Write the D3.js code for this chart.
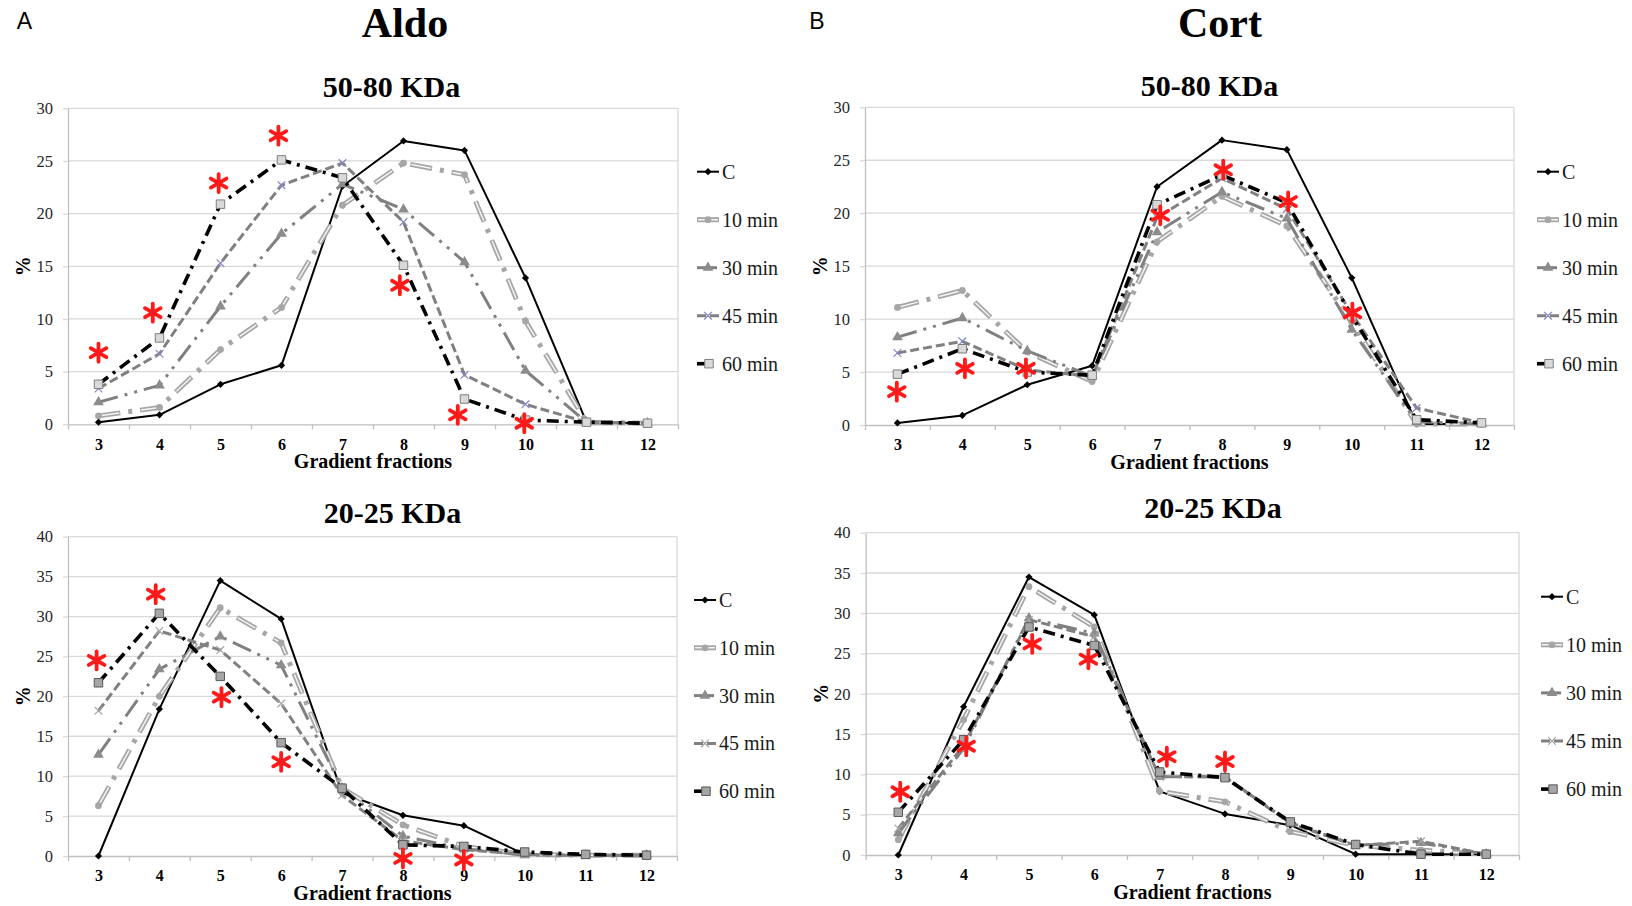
<!DOCTYPE html>
<html>
<head>
<meta charset="utf-8">
<script src="https://cdn.jsdelivr.net/npm/d3@7"></script>
<style>
  body { margin: 0; background: #fff; }
  svg { display: block; }
</style>
</head>
<body>
<svg id="chart" width="1632" height="906"></svg>
<script>
// Gradient fractions on the x axis, series names in the legend
const fractions = [3, 4, 5, 6, 7, 8, 9, 10, 11, 12];
const seriesNames = ['C', '10 min', '30 min', '45 min', '60 min'];
const yTicksHigh = [0, 5, 10, 15, 20, 25, 30];
const yTicksLow = [0, 5, 10, 15, 20, 25, 30, 35, 40];

// Aldo, 50-80 KDa (%)
const aldoHighC   = [0.2, 0.9, 3.8, 5.6, 22.6, 26.9, 26.0, 13.9, 0.2, 0.1];
const aldoHigh10  = [0.8, 1.6, 7.1, 11.1, 20.8, 24.8, 23.7, 9.8, 0.2, 0.1];
const aldoHigh30  = [2.1, 3.7, 11.2, 18.1, 22.8, 20.4, 15.4, 5.1, 0.2, 0.1];
const aldoHigh45  = [3.4, 6.7, 15.3, 22.7, 24.8, 19.2, 4.7, 1.9, 0.2, 0.1];
const aldoHigh60  = [3.8, 8.2, 20.9, 25.1, 23.4, 15.1, 2.4, 0.4, 0.2, 0.1];

// Aldo, 20-25 KDa (%)
const aldoLowC    = [0.0, 18.4, 34.5, 29.7, 7.9, 5.1, 3.8, 0.2, 0.1, 0.1];
const aldoLow10   = [6.3, 20.0, 31.1, 26.7, 8.5, 3.9, 1.2, 0.2, 0.1, 0.1];
const aldoLow30   = [12.7, 23.4, 27.5, 23.9, 8.5, 2.5, 0.9, 0.1, 0.1, 0.1];
const aldoLow45   = [18.2, 28.2, 25.8, 19.1, 7.6, 1.9, 0.8, 0.2, 0.1, 0.1];
const aldoLow60   = [21.7, 30.4, 22.5, 14.2, 8.5, 1.4, 1.2, 0.5, 0.2, 0.1];

// Cort, 50-80 KDa (%)
const cortHighC   = [0.2, 0.9, 3.8, 5.6, 22.5, 26.9, 26.0, 13.9, 0.1, 0.1];
const cortHigh10  = [11.1, 12.7, 6.9, 4.1, 17.3, 21.6, 18.8, 9.7, 0.1, 0.1];
const cortHigh30  = [8.3, 10.1, 7.0, 4.6, 18.2, 22.0, 19.5, 9.0, 0.3, 0.1];
const cortHigh45  = [6.8, 7.9, 5.2, 4.6, 19.6, 23.3, 20.4, 10.5, 1.6, 0.2];
const cortHigh60  = [4.8, 7.2, 5.0, 4.7, 20.8, 23.6, 21.0, 10.3, 0.5, 0.2];

// Cort, 20-25 KDa (%)
const cortLowC    = [0.0, 18.4, 34.5, 29.8, 7.9, 5.1, 3.7, 0.1, 0.1, 0.1];
const cortLow10   = [1.9, 16.8, 33.3, 28.3, 7.9, 6.6, 2.9, 1.2, 0.6, 0.1];
const cortLow30   = [2.7, 13.2, 29.4, 27.5, 9.7, 9.7, 4.0, 1.2, 1.5, 0.1];
const cortLow45   = [3.3, 13.6, 29.2, 27.1, 9.7, 9.7, 3.9, 1.2, 1.7, 0.1];
const cortLow60   = [5.3, 14.3, 28.3, 26.0, 10.3, 9.6, 4.1, 1.3, 0.1, 0.1];

// Significance marks: [fraction, % value where the asterisk sits]
const aldoHighStars = [[3.0, 6.8], [3.89, 10.6], [4.97, 22.9], [5.95, 27.4], [7.94, 13.2], [8.89, 0.9], [9.98, 0.1]];
const aldoLowStars  = [[2.97, 24.5], [3.94, 32.8], [5.02, 19.9], [6.0, 11.8], [8.0, -0.3], [9.0, -0.5]];
const cortHighStars = [[2.99, 3.15], [4.04, 5.35], [4.98, 5.35], [7.05, 19.8], [8.02, 24.1], [9.02, 21.1], [10.01, 10.6]];
const cortLowStars  = [[3.03, 7.85], [4.04, 13.5], [5.05, 26.2], [5.91, 24.3], [7.11, 12.2], [8.0, 11.6]];

/**
 * Visual configs.
 */
const serif = '"Liberation Serif", "Times New Roman", serif';
const sans = '"Liberation Sans", Arial, sans-serif';

const styles = [
    { color: '#000', width: 2, dash: null, marker: 'diamond' },
    { color: '#a6a6a6', width: 5, dash: '22,8,4,8', inner: '0,1,20,21', marker: 'circle' },
    { color: '#808080', width: 3, dash: '20,7,3,7,3,7', marker: 'triangle' },
    { color: '#808080', width: 3, dash: '9,4', marker: 'x' },
    { color: '#000', width: 3.6, dash: '12,6,3,6', marker: 'square' }
];

const panels = [
    { series: [aldoHighC, aldoHigh10, aldoHigh30, aldoHigh45, aldoHigh60], stars: aldoHighStars,
      ticks: yTicksHigh, left: 68, right: 678, top: 108.3, bottom: 424.3,
      legX: 697, legY: 171.7, legStep: 48, title: '50-80 KDa', titleX: 391.5, titleY: 96.5, dark: false },
    { series: [cortHighC, cortHigh10, cortHigh30, cortHigh45, cortHigh60], stars: cortHighStars,
      ticks: yTicksHigh, left: 865, right: 1514, top: 107.3, bottom: 425,
      legX: 1537, legY: 171.7, legStep: 48, title: '50-80 KDa', titleX: 1209.5, titleY: 96, dark: false },
    { series: [aldoLowC, aldoLow10, aldoLow30, aldoLow45, aldoLow60], stars: aldoLowStars,
      ticks: yTicksLow, left: 68, right: 677, top: 536.7, bottom: 856,
      legX: 694, legY: 600, legStep: 47.8, title: '20-25 KDa', titleX: 392.5, titleY: 523, dark: true },
    { series: [cortLowC, cortLow10, cortLow30, cortLow45, cortLow60], stars: cortLowStars,
      ticks: yTicksLow, left: 865.6, right: 1519, top: 532.7, bottom: 855,
      legX: 1541, legY: 596.7, legStep: 48.1, title: '20-25 KDa', titleX: 1213, titleY: 518.3, dark: true }
];

const svg = d3.select('#chart');

/**
 * Big headings.
 */
svg.append('text').attr('x', 24.5).attr('y', 29).attr('text-anchor', 'middle')
    .attr('font-family', sans).attr('font-size', 23).text('A');
svg.append('text').attr('x', 817).attr('y', 29).attr('text-anchor', 'middle')
    .attr('font-family', sans).attr('font-size', 23).text('B');
svg.append('text').attr('x', 405).attr('y', 37).attr('text-anchor', 'middle')
    .attr('font-family', serif).attr('font-weight', 'bold').attr('font-size', 42).text('Aldo');
svg.append('text').attr('x', 1220).attr('y', 37).attr('text-anchor', 'middle')
    .attr('font-family', serif).attr('font-weight', 'bold').attr('font-size', 42).text('Cort');

panels.forEach(drawPanel);

/**
 * Draws one marker symbol.
 */
function drawMarker(sel, type, px, py, dark) {
    if (type === 'diamond') {
        sel.append('path').attr('d', d3.symbol(d3.symbolSquare, 26)())
            .attr('transform', `translate(${px},${py}) rotate(45)`).attr('fill', '#000');
    } else if (type === 'circle') {
        sel.append('path').attr('d', d3.symbol(d3.symbolCircle, 36)())
            .attr('transform', `translate(${px},${py})`).attr('fill', '#a6a6a6');
    } else if (type === 'triangle') {
        sel.append('path').attr('d', d3.symbol(d3.symbolTriangle, 50)())
            .attr('transform', `translate(${px},${py})`).attr('fill', '#8c8c8c');
    } else if (type === 'x') {
        sel.append('path').attr('d', d3.symbol(d3.symbolX, 40)())
            .attr('transform', `translate(${px},${py})`).attr('fill', 'none')
            .attr('stroke', dark ? '#a6a6a6' : '#8585c2').attr('stroke-width', 1.2);
    } else if (type === 'square') {
        sel.append('path').attr('d', d3.symbol(d3.symbolSquare, 72)())
            .attr('transform', `translate(${px},${py})`)
            .attr('fill', dark ? '#a6a6a6' : '#d9d9d9')
            .attr('stroke', dark ? '#595959' : '#7f7f7f').attr('stroke-width', 1);
    }
}

/**
 * Draws a styled path (used for series and legend samples).
 */
function drawStroke(sel, d, st) {
    sel.append('path').attr('d', d).attr('fill', 'none')
        .attr('stroke', st.color).attr('stroke-width', st.width)
        .attr('stroke-dasharray', st.dash).attr('stroke-linejoin', 'round');
    if (st.inner) {
        sel.append('path').attr('d', d).attr('fill', 'none')
            .attr('stroke', '#f4f4f4').attr('stroke-width', 1.5)
            .attr('stroke-dasharray', st.inner);
    }
}

function drawPanel(p) {
    const g = svg.append('g');
    const yMax = d3.max(p.ticks);
    const x = d3.scaleLinear().domain([2.5, 12.5]).range([p.left, p.right]);
    const y = d3.scaleLinear().domain([0, yMax]).range([p.bottom, p.top]);

    // Gridlines and plot border
    g.append('g').selectAll('line').data(p.ticks.filter(t => t > 0)).join('line')
        .attr('x1', p.left).attr('x2', p.right)
        .attr('y1', d => y(d)).attr('y2', d => y(d))
        .attr('stroke', '#d9d9d9').attr('stroke-width', 1.3);
    g.append('line').attr('x1', p.right).attr('x2', p.right)
        .attr('y1', p.top).attr('y2', p.bottom)
        .attr('stroke', '#d9d9d9').attr('stroke-width', 1.3);

    // Y axis
    g.append('g').attr('transform', `translate(${p.left},0)`)
        .call(d3.axisLeft(y).tickValues(p.ticks).tickSize(5).tickSizeOuter(0).tickPadding(10))
        .attr('font-family', serif).attr('font-size', 16.5)
        .call(a => {
            a.select('.domain').attr('stroke', '#bfbfbf').attr('stroke-width', 1.3);
            a.selectAll('.tick line').attr('stroke', '#d9d9d9').attr('stroke-width', 1.3);
            a.selectAll('.tick text').attr('fill', '#262626');
        });

    // X axis: tick marks between fractions, labels at fractions
    g.append('g').attr('transform', `translate(0,${p.bottom})`)
        .call(d3.axisBottom(x).tickValues(d3.range(2.5, 12.6, 1)).tickSize(5).tickSizeOuter(0).tickFormat(''))
        .call(a => {
            a.select('.domain').attr('stroke', '#bfbfbf').attr('stroke-width', 1.3);
            a.selectAll('.tick line').attr('stroke', '#bfbfbf').attr('stroke-width', 1.3);
        });
    g.append('g').attr('transform', `translate(0,${p.bottom})`)
        .call(d3.axisBottom(x).tickValues(fractions).tickSize(0).tickPadding(14).tickFormat(d3.format('d')))
        .attr('font-family', serif).attr('font-size', 16).attr('font-weight', 'bold')
        .call(a => {
            a.select('.domain').remove();
            a.selectAll('.tick text').attr('fill', '#000');
        });

    // Axis titles
    g.append('text')
        .attr('transform', `translate(${p.left - 45},${(p.top + p.bottom) / 2}) rotate(-90)`)
        .attr('text-anchor', 'middle').attr('dy', '0.35em')
        .attr('font-family', serif).attr('font-weight', 'bold').attr('font-size', 20)
        .text('%');
    g.append('text').attr('x', (p.left + p.right) / 2).attr('y', p.bottom + 43.5)
        .attr('text-anchor', 'middle')
        .attr('font-family', serif).attr('font-weight', 'bold').attr('font-size', 20)
        .text('Gradient fractions');
    g.append('text').attr('x', p.titleX).attr('y', p.titleY)
        .attr('text-anchor', 'middle')
        .attr('font-family', serif).attr('font-weight', 'bold').attr('font-size', 30)
        .text(p.title);

    // Series
    const line = d3.line().x((d, i) => x(fractions[i])).y(d => y(d));
    p.series.forEach((values, k) => {
        const st = styles[k];
        const sg = g.append('g').attr('class', 'series');
        drawStroke(sg, line(values), st);
        values.forEach((v, i) => drawMarker(sg, st.marker, x(fractions[i]), y(v), p.dark));
    });

    // Asterisks
    g.append('g').selectAll('path').data(p.stars).join('path')
        .attr('d', d3.symbol(d3.symbolAsterisk, 230)())
        .attr('transform', d => `translate(${x(d[0])},${y(d[1])})`)
        .attr('fill', 'none').attr('stroke', '#ff1a1a')
        .attr('stroke-width', 3.8).attr('stroke-linecap', 'round');

    // Legend
    const leg = g.append('g');
    seriesNames.forEach((name, k) => {
        const st = styles[k];
        const ly = p.legY + k * p.legStep;
        const x1 = p.legX, x2 = k === 4 ? p.legX + 16 : p.legX + 22;
        drawStroke(leg, d3.line()([[x1, ly], [x2, ly]]), st);
        drawMarker(leg, st.marker, k === 4 ? p.legX + 12 : (x1 + x2) / 2, ly, p.dark);
        leg.append('text').attr('x', p.legX + 25).attr('y', ly)
            .attr('dominant-baseline', 'central')
            .attr('font-family', serif).attr('font-size', 20).attr('fill', '#1a1a1a')
            .text(name);
    });
}
</script>
</body>
</html>
